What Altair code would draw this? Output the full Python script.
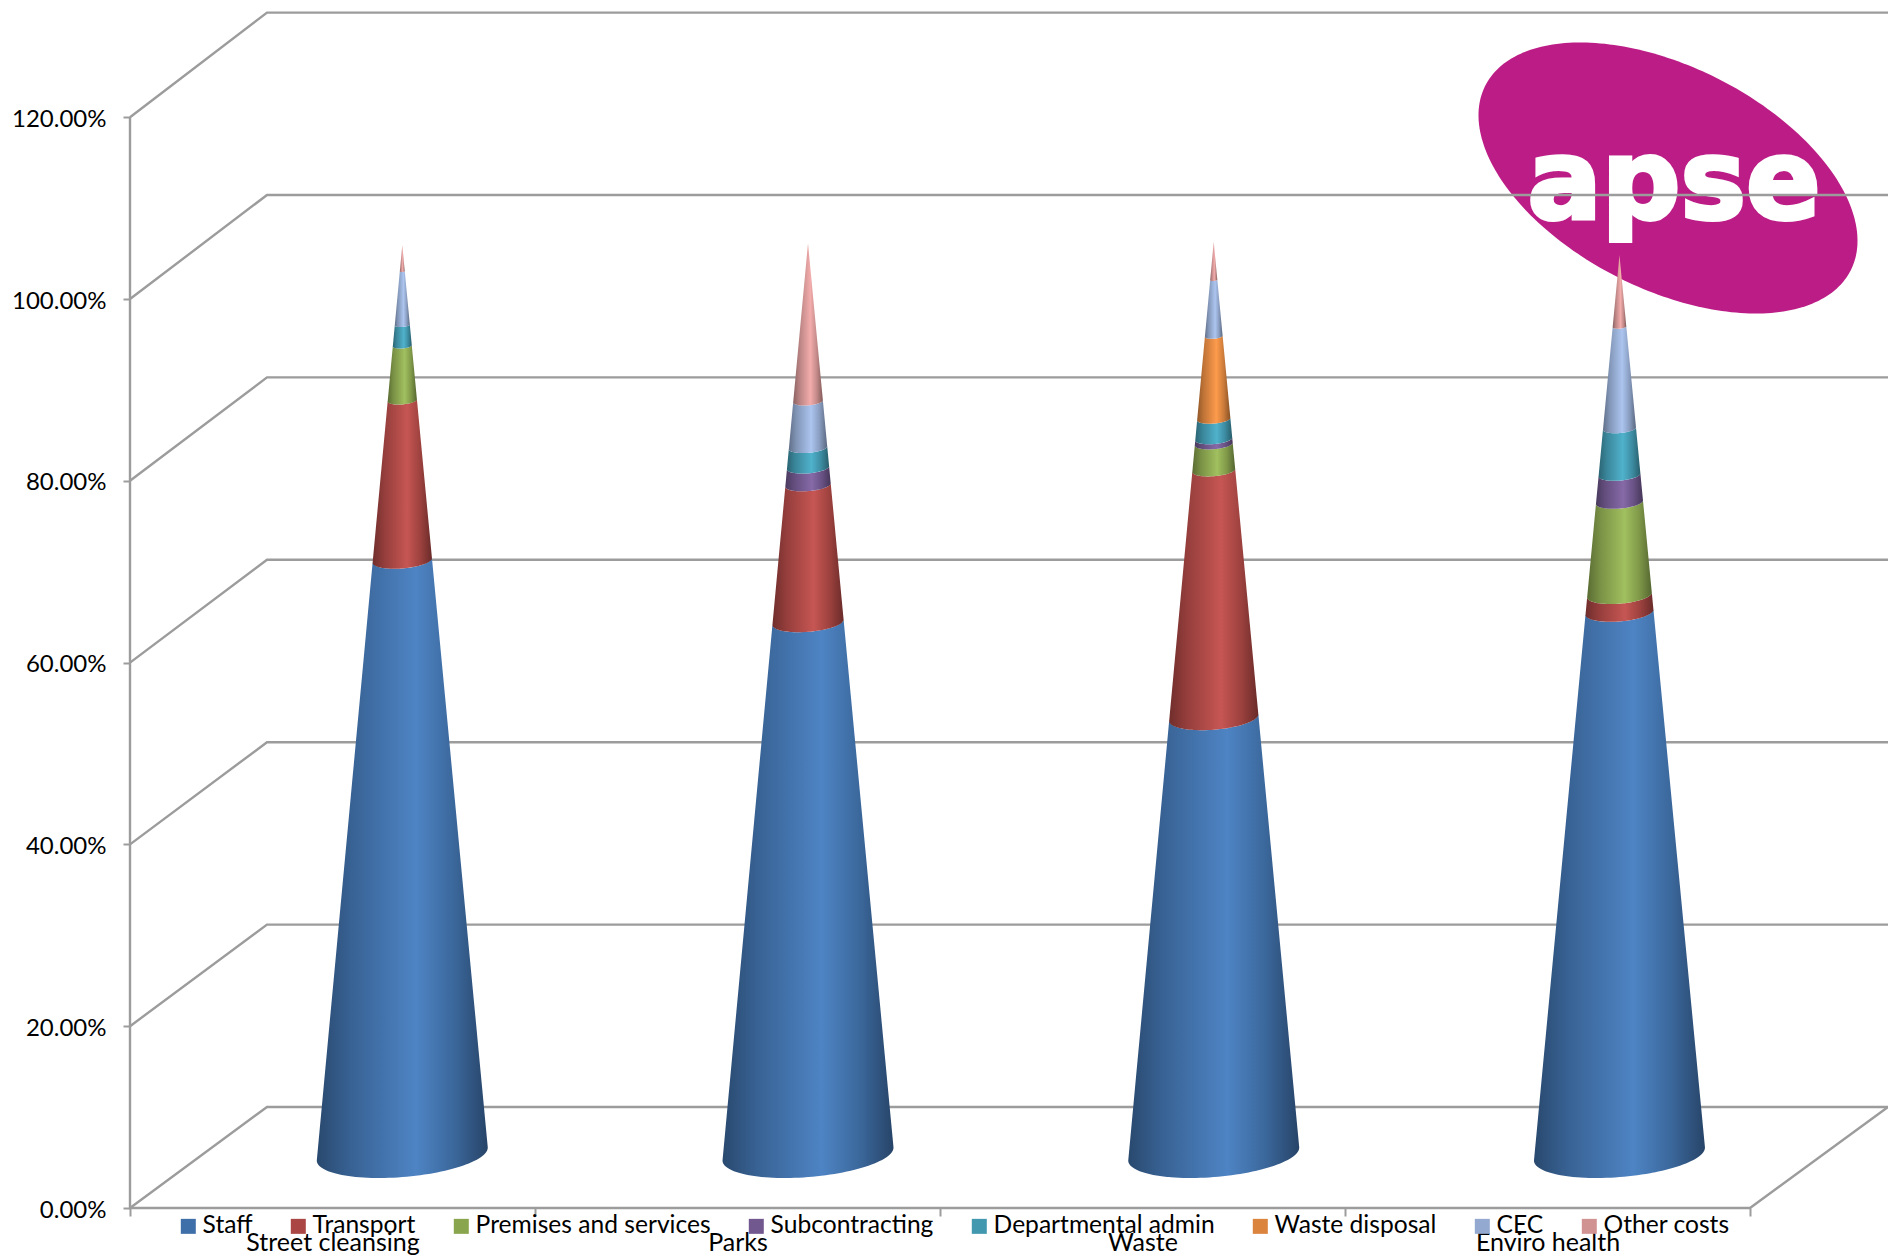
import altair as alt
import numpy as np
import pandas as pd

# Cost shares per service, in percent of the service total
services = ["Street cleansing", "Parks", "Waste", "Enviro health"]
series = ["Staff", "Transport", "Premises and services", "Subcontracting",
          "Departmental admin", "Waste disposal", "CEC", "Other costs"]
staff = [65.3, 58.5, 48.0, 59.6]
transport = [17.6, 15.1, 27.2, 1.9]
premises = [6.0, 0.0, 2.9, 10.2]
subcontracting = [0.0, 1.9, 0.55, 3.0]
admin = [2.3, 2.2, 2.2, 5.1]
waste_disposal = [0.0, 0.0, 9.1, 0.0]
cec = [5.9, 5.1, 6.2, 11.2]
other = [2.9, 17.4, 4.2, 7.9]
stack = [staff, transport, premises, subcontracting, admin, waste_disposal, cec, other]
colors = ["#3F6FA8", "#AA4643", "#89A54E", "#71588F", "#4198AF", "#DB843D", "#93A9CF", "#D19392"]
levels = [0, 20, 40, 60, 80, 100, 120]

# Scale factors of the plot frame
W, H = 1758, 1208
PX_U = 405.0          # pixels per category
PX_V = 909.0          # pixels per 100 %
U_MAX = W / PX_U
V_MAX = H / PX_V
DEPTH_U = 137.0 / PX_U    # how far the back wall sits to the right
DEPTH_V = 101.0 / PX_V    # how far the floor's back edge rises
FONT = "Lato"
LINE = "#9c9c9c"

# Value axis and category axis, with ticks only at the category edges
half = {str(i + 0.5): s for i, s in enumerate(services)}
label_expr = "{" + ",".join(f"'{k}':'{s}'" for k, s in half.items()) + "}[format(datum.value,'.1f')] || ''"
x_enc = alt.X("u:Q", scale=alt.Scale(domain=[0, U_MAX], nice=False, zero=False),
              axis=alt.Axis(values=[i / 2 for i in range(9)], title=None, grid=False, domain=False,
                            labelExpr=label_expr, labelFont=FONT, labelFontSize=25, labelColor="#000",
                            labelPadding=14, labelOverlap=False, labelFlush=False, tickSize=8,
                            tickColor=LINE, tickWidth=2,
                            tickOpacity={"condition": {"test": "datum.value % 1 !== 0", "value": 0}, "value": 1}))
y_enc = alt.Y("v:Q", scale=alt.Scale(domain=[0, V_MAX], nice=False, zero=False),
              axis=alt.Axis(values=[lv / 100 for lv in levels], title=None, grid=False, domain=False,
                            format=".2%", labelFont=FONT, labelFontSize=24, labelColor="#000",
                            labelPadding=17, labelOffset=2, tickSize=7, tickColor=LINE, tickWidth=2))


def shade(hex_color):
    """Horizontal gradient that gives a segment its rounded look."""
    rgb = np.array([int(hex_color[i:i + 2], 16) for i in (1, 3, 5)], dtype=float)
    stops = []
    for off, k, lift in [(0, 0.66, 0), (0.2, 0.87, 2), (0.58, 1.12, 8), (0.8, 0.92, 2), (1, 0.62, 0)]:
        c = np.clip(rgb * k + lift, 0, 255).astype(int)
        stops.append(alt.GradientStop(color="#%02x%02x%02x" % tuple(c), offset=off))
    return alt.Gradient(gradient="linear", stops=stops, x1=0, x2=1, y1=0, y2=0)


R = 85.5       # base radius of a cone, px
TILT = 0.076   # sideways tilt of a ring
FRONT = 0.27   # how far the front of a ring bulges down
AXIS_LIFT = 54 # height of the cone axis foot above the front edge, px


def segment(cu, lo, hi, total):
    """Outline of one cone slice between the stacked values lo and hi, as y and y2 over x."""
    r0 = R * (1 - lo / total)
    r1 = R * (1 - hi / total)
    t = np.linspace(np.pi, 0, 61)
    xs = np.unique(np.concatenate([r0 * np.cos(t), [-r1, r1]]))
    rows = []
    for x in xs:
        c0 = np.clip(x / r0, -1, 1)
        low = r0 * (FRONT * np.sqrt(1 - c0 ** 2) - TILT * c0)
        if abs(x) <= r1 and r1 > 0:
            c1 = x / r1
            up = r1 * (FRONT * np.sqrt(1 - c1 ** 2) - TILT * c1)
            v_up = hi
        else:
            s = 1 if x > 0 else -1
            f = (r0 - abs(x)) / max(r0 - r1, 1e-9)
            e0, e1 = -s * TILT * r0, -s * TILT * r1
            up = e0 + (e1 - e0) * f
            v_up = lo + (hi - lo) * f
        rows.append({
            "u": cu + x / PX_U,
            "v": (v_up * 9.09 + AXIS_LIFT - up) / PX_V,
            "v0": (lo * 9.09 + AXIS_LIFT - low) / PX_V,
        })
    return pd.DataFrame(rows)


# Walls and floor of the chart box
wall_rows = []
for lv in levels:
    v = lv / 100
    back = v * 1.0033 + DEPTH_V
    for j, (u, val) in enumerate([(0, v), (DEPTH_U, back), (U_MAX, back)]):
        wall_rows.append({"level": lv, "step": j, "u": u, "v": val})
wall = alt.Chart(pd.DataFrame(wall_rows)).mark_line(color=LINE, strokeWidth=2.4).encode(
    x=x_enc, y=y_enc, detail="level:N", order="step:Q")

frame_pts = [(0, 1.2), (0, 0), (4, 0), (U_MAX, DEPTH_V)]
frame = alt.Chart(pd.DataFrame(
    [{"step": i, "u": u, "v": v} for i, (u, v) in enumerate(frame_pts)]
)).mark_line(color=LINE, strokeWidth=2.4).encode(x=x_enc, y=y_enc, order="step:Q")

# Logo: a tilted oval with the wordmark on it
lcx, lcy, lsx, lsy, rho = 1668.0, 178.0, 189.5, 135.5, 0.463
t = np.linspace(np.pi, 0, 121)
lx = np.cos(t)
ly_a = lcy + lsy * (rho * lx - np.sqrt(1 - rho ** 2) * np.sin(t))
ly_b = lcy + lsy * (rho * lx + np.sqrt(1 - rho ** 2) * np.sin(t))
logo_df = pd.DataFrame({
    "u": (lcx + lsx * lx - 130) / PX_U,
    "v": (H - ly_a) / PX_V,
    "v0": (H - ly_b) / PX_V,
})
logo = alt.Chart(logo_df).mark_area(color="#BC1C85").encode(x=x_enc, y=y_enc, y2=alt.Y2("v0:Q"))
logo_text = alt.Chart(pd.DataFrame({
    "u": [(1674 - 130) / PX_U], "v": [(H - 218) / PX_V], "t": ["apse"]
})).mark_text(font="DejaVu Sans", fontWeight="bold", fontSize=110, color="#ffffff",
              stroke="#ffffff", strokeWidth=4, baseline="alphabetic", align="center").encode(
    x=x_enc, y=y_enc, text="t:N")

# Stacked cones, one slice per non-empty cost heading
cones = []
for i in range(len(services)):
    cu = i * 1.0018 + 0.5 + 0.1723
    vals = [col[i] for col in stack]
    total = sum(vals)
    lo = 0.0
    for val, col in zip(vals, colors):
        if val <= 0:
            continue
        df = segment(cu, lo, lo + val, total)
        cones.append(alt.Chart(df).mark_area(color=shade(col)).encode(
            x=x_enc, y=y_enc, y2=alt.Y2("v0:Q")))
        lo += val

# Legend comes from the colour scale of an invisible layer
legend_layer = alt.Chart(pd.DataFrame({"s": series})).mark_square(size=0).encode(
    color=alt.Color("s:N", scale=alt.Scale(domain=series, range=colors),
                    legend=alt.Legend(title=None, orient="none", legendX=46, legendY=1214, direction="horizontal",
                                      columns=8, symbolType="square", symbolSize=225, symbolStrokeWidth=0,
                                      labelFont=FONT, labelFontSize=24.6, labelColor="#000", labelOffset=2,
                                      columnPadding=33, gridAlign="each", padding=0, symbolOpacity=1,
                                      labelLimit=400)))

chart = alt.layer(logo, logo_text, wall, frame, *cones, legend_layer).properties(
    width=W, height=H,
    padding={"left": 130, "top": 0, "right": 0, "bottom": 52},
    autosize=alt.AutoSizeParams(type="none"),
    background="#ffffff",
).configure_view(stroke=None)

chart.save("out.html", embed_options={"renderer": "svg", "actions": False})
